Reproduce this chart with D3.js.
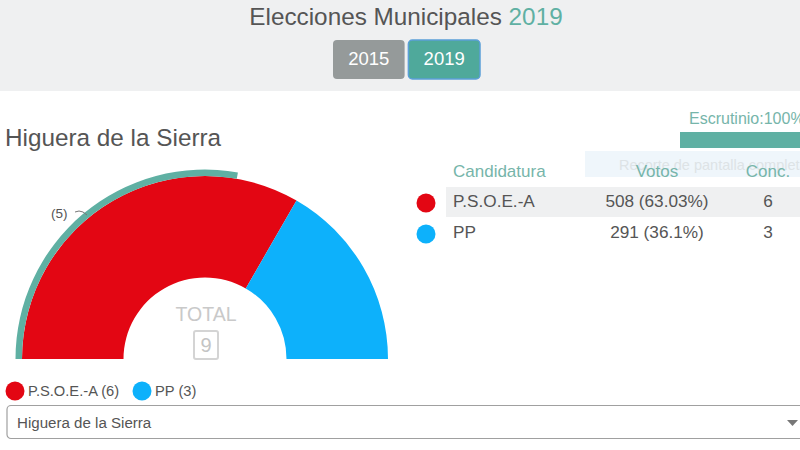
<!DOCTYPE html>
<html>
<head>
<meta charset="utf-8">
<script src="https://cdn.jsdelivr.net/npm/d3@7"></script>
<style>
html, body { margin: 0; padding: 0; background: #fff; overflow: hidden; }
text { font-family: "Liberation Sans", Arial, sans-serif; }
</style>
</head>
<body>
<svg id="chart" width="800" height="450"></svg>
<script>
var parties = ['P.S.O.E.-A', 'PP'];
var seats = [6, 3];
var prevSeats = [5];
var votes = ['508 (63.03%)', '291 (36.1%)'];
var colors = ['#e30613', '#0db1fb'];
var years = ['2015', '2019'];
var columns = ['Candidatura', 'Votos', 'Conc.'];

var teal = '#5fb0a3', grey = '#555', head = '#76b5aa';
var svg = d3.select('#chart');

function label(x, y, str, size, fill, anchor) {
  return svg.append('text').attr('x', x).attr('y', y).text(str)
    .style('font-size', size + 'px').attr('fill', fill)
    .attr('text-anchor', anchor || 'start');
}

// header band
svg.append('rect').attr('width', 800).attr('height', 91).attr('fill', '#eff0f1');
var title = label(406, 25, 'Elecciones Municipales ', 24.3, '#555', 'middle');
title.append('tspan').attr('fill', teal).text('2019');

var btnX = d3.scaleBand().domain(years).range([333, 480]).paddingInner(0.05);
years.forEach(function(y, i) {
  svg.append('rect').attr('x', btnX(y)).attr('y', 40)
    .attr('width', btnX.bandwidth()).attr('height', 39).attr('rx', 4)
    .attr('fill', i ? '#4fa99b' : '#959a9a')
    .attr('stroke', i ? '#5b9fd8' : 'none').attr('stroke-width', i ? 1.5 : 0);
  label(btnX(y) + btnX.bandwidth() / 2, 65, y, 18.5, '#fff', 'middle');
});

label(5, 146, 'Higuera de la Sierra', 24.3, '#555');

// escrutinio
label(689, 124, 'Escrutinio:100%', 16, head);
svg.append('rect').attr('x', 680).attr('y', 132).attr('width', 120).attr('height', 16).attr('fill', teal);

// screenshot tooltip left in the picture
svg.append('rect').attr('x', 585).attr('y', 151).attr('width', 215).attr('height', 26).attr('fill', '#eff6fb');
label(619, 170, 'Recorte de pantalla completa', 14.5, '#dde3e6');

// hemicycle
var total = d3.sum(seats);
var angle = d3.scaleLinear().domain([0, total]).range([-Math.PI / 2, Math.PI / 2]);
var cx = 205, cy = 359;
var g = svg.append('g').attr('transform', 'translate(' + cx + ',' + cy + ')');
var arc = d3.arc().innerRadius(81.5).outerRadius(183);
var stacked = d3.cumsum(seats);

g.selectAll('path.seat').data(seats).enter().append('path')
  .attr('class', 'seat')
  .attr('fill', function(d, i) { return colors[i]; })
  .attr('d', function(d, i) {
    return arc({ startAngle: angle(stacked[i] - d), endAngle: angle(stacked[i]) });
  });

// previous election ring
var ring = d3.arc().innerRadius(183).outerRadius(189.5);
g.selectAll('path.prev').data(prevSeats).enter().append('path')
  .attr('class', 'prev').attr('fill', teal)
  .attr('d', function(d) { return ring({ startAngle: angle(0), endAngle: angle(d) }); });

svg.append('path').attr('d', 'M75,212 Q79,210 83,212 L87,215').attr('fill', 'none').attr('stroke', '#777').attr('stroke-width', 1);
label(51, 218, '(' + prevSeats[0] + ')', 13.5, grey);

// centre total
label(206, 321, 'TOTAL', 19.5, '#c9c9c9', 'middle');
svg.append('rect').attr('x', 194).attr('y', 331).attr('width', 24).attr('height', 28).attr('rx', 2)
  .attr('fill', 'none').attr('stroke', '#d4d4d4').attr('stroke-width', 2);
label(206, 352, total, 20, '#c4c4c4', 'middle');

// legend
var legendX = [15, 142], legendText = [28, 155];
parties.forEach(function(p, i) {
  svg.append('circle').attr('cx', legendX[i]).attr('cy', 391).attr('r', 9.5).attr('fill', colors[i]);
  label(legendText[i], 396, p + ' (' + seats[i] + ')', 14.7, grey);
});

// select box
svg.append('rect').attr('x', 7).attr('y', 405.5).attr('width', 810).attr('height', 33).attr('rx', 4)
  .attr('fill', '#fff').attr('stroke', '#a0a0a0').attr('stroke-width', 1.2);
label(17, 428, 'Higuera de la Sierra', 15.1, grey);
svg.append('path').attr('d', d3.line()([[787, 420], [798, 420], [792.5, 426]])).attr('fill', '#777');

// table
var colX = [453, 657, 768], colAnchor = ['start', 'middle', 'middle'];
columns.forEach(function(c, i) { label(colX[i], 177, c, 17, head, colAnchor[i]); });
var rowY = d3.scalePoint().domain(parties).range([207, 238]);
svg.insert('rect', 'text').attr('x', 446).attr('y', 187).attr('width', 354).attr('height', 30).attr('fill', '#eff0f1');
parties.forEach(function(p, i) {
  svg.append('circle').attr('cx', 426).attr('cy', rowY(p) - 4).attr('r', 9.5).attr('fill', colors[i]);
  label(colX[0], rowY(p), p, 17.2, grey);
  label(colX[1], rowY(p), votes[i], 17.2, grey, 'middle');
  label(colX[2], rowY(p), seats[i], 17.2, grey, 'middle');
});
</script>
</body>
</html>
